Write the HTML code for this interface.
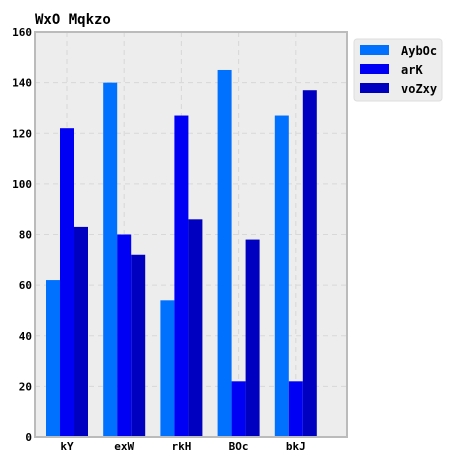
<!DOCTYPE html>
<html><head><meta charset="utf-8"><style>
body{margin:0;background:#fff;}
svg text{font-family:"DejaVu Sans Mono","Liberation Mono",monospace;font-weight:bold;}
</style></head><body>
<svg id="chart" width="464" height="464" xmlns="http://www.w3.org/2000/svg">
<text x="35" y="24" font-size="14" fill="#000">WxO Mqkzo</text>
<rect x="35" y="32" width="312" height="405" fill="#ededed"/>
<g id="grid"></g>
<g id="bars"></g>
<rect x="35" y="32" width="312" height="405" fill="none" stroke="#bbb" stroke-width="2"/>
<g id="axes"></g>
<g>
<rect x="354" y="39" width="88" height="62" rx="3" fill="#ededed" stroke="#ddd"/>
<g id="legend"></g>
</g>
</svg>
<script>
const categories=["kY","exW","rkH","BOc","bkJ"];
const seriesNames=["AybOc","arK","voZxy"];
const seriesA=[62,140,54,145,127];
const seriesB=[122,80,127,22,22];
const seriesC=[83,72,86,78,137];
const yTicks=[0,20,40,60,80,100,120,140,160];
const colors=["#0070ff","#0000f5","#0000c0"];
const series=[seriesA,seriesB,seriesC];
const NS="http://www.w3.org/2000/svg";
const plotTop=32,plotBottom=437,plotLeft=35,plotRight=347,yMax=160;
const y=v=>plotBottom-(v/yMax)*(plotBottom-plotTop);
const xc=i=>67+57.2*i;
const bw=14;
function mk(t,a,p){const e=document.createElementNS(NS,t);for(const k in a)e.setAttribute(k,a[k]);p.appendChild(e);return e;}
const grid=document.getElementById('grid'),bars=document.getElementById('bars'),axes=document.getElementById('axes'),legend=document.getElementById('legend');
yTicks.forEach(t=>{
  if(t>0&&t<yMax){const l=mk('line',{x1:plotLeft,x2:plotRight,y1:y(t),y2:y(t),stroke:'#d8d8d8','stroke-dasharray':'5,4'},grid);
  
  }
  const tx=mk('text',{x:plotLeft-3,y:y(t)+4,'font-size':11,'text-anchor':'end'},axes);tx.textContent=t;
  
  
});
categories.forEach((c,i)=>{
  const l=mk('line',{x1:xc(i),x2:xc(i),y1:plotTop,y2:plotBottom,stroke:'#d8d8d8','stroke-dasharray':'5,4'},grid);
  
  
  const tx=mk('text',{x:xc(i),y:plotBottom+13,'font-size':11,'text-anchor':'middle'},axes);tx.textContent=c;
  
  
  series.forEach((s,j)=>{
    const r=mk('rect',{x:xc(i)-21+j*bw,y:y(s[i]),width:bw,height:plotBottom-y(s[i]),fill:colors[j]},bars);
    
    
  });
});
seriesNames.forEach((n,j)=>{
  const r=mk('rect',{x:360,y:45+j*19,width:29,height:10,fill:colors[j]},legend);
  
  
  const t=mk('text',{x:401,y:55+j*19,'font-size':12},legend);t.textContent=n;
  
  
});
</script>
</body></html>
